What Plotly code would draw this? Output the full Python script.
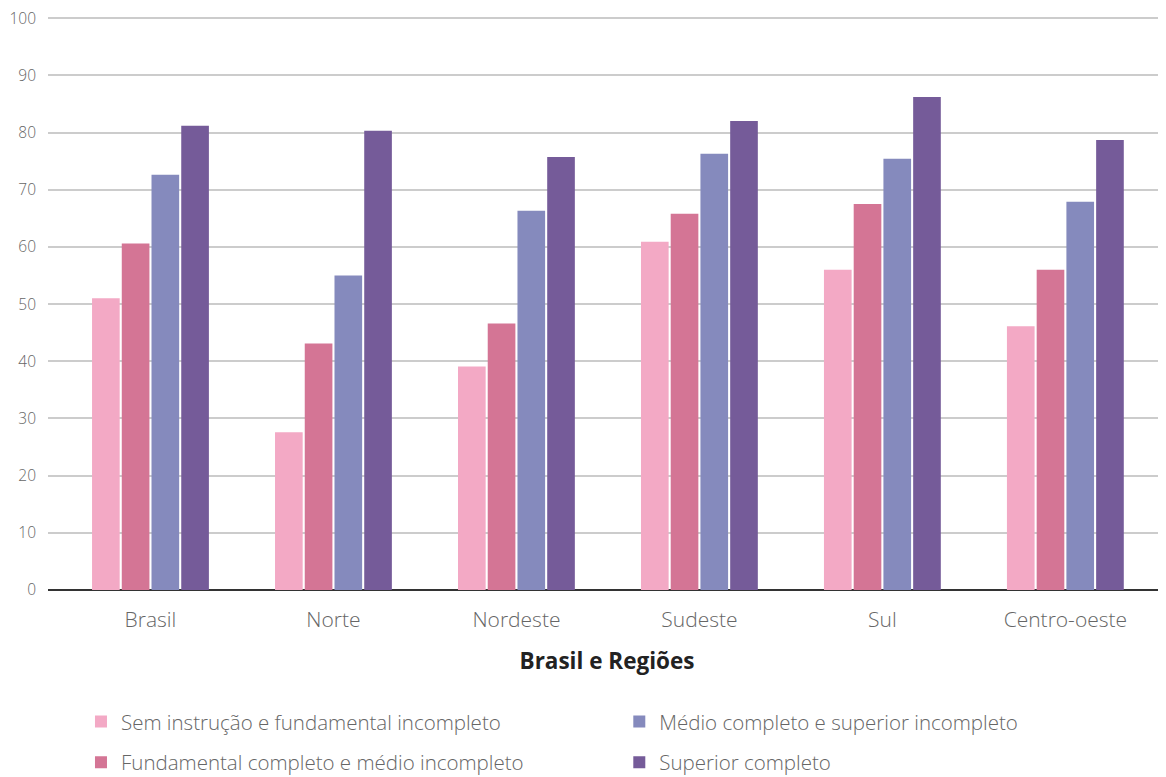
import plotly.graph_objects as go

categories = ["Brasil", "Norte", "Nordeste", "Sudeste", "Sul", "Centro-oeste"]
series_names = [
    "Sem instrução e fundamental incompleto",
    "Fundamental completo e médio incompleto",
    "Médio completo e superior incompleto",
    "Superior completo",
]
sem_instrucao = [51.0, 27.6, 39.1, 60.9, 56.0, 46.1]
fundamental = [60.6, 43.1, 46.6, 65.8, 67.5, 56.0]
medio = [72.6, 55.0, 66.3, 76.3, 75.4, 67.9]
superior = [81.2, 80.3, 75.7, 82.0, 86.2, 78.7]
y_ticks = [0, 10, 20, 30, 40, 50, 60, 70, 80, 90, 100]

colors = ["#F3A9C5", "#D47595", "#858ABD", "#755B99"]
values = [sem_instrucao, fundamental, medio, superior]
legends = ["legend", "legend", "legend2", "legend2"]

FONT = "Open Sans"
TXT = "#666666"
fig = go.Figure()
for name, vals, col, lg in zip(series_names, values, colors, legends):
    fig.add_trace(go.Bar(
        x=categories, y=vals, name=name, marker_color=col,
        marker_line_width=0, legend=lg, legendgroup=name,
    ))

legend_common = dict(
    orientation="v", xref="paper", yref="paper",
    xanchor="left", yanchor="top", y=-0.195, tracegroupgap=11,
    font=dict(family=FONT, size=20.5, color=TXT, weight=300),
    bgcolor="rgba(0,0,0,0)",
)

# page body has an 8px offset; figure sized to fill the remaining window
fig.update_layout(
    width=1158, height=769,
    margin=dict(l=40, r=0, t=9, b=187, autoexpand=False),
    plot_bgcolor="white", paper_bgcolor="white",
    barmode="group", bargap=0.35, bargroupgap=0.07,
    font=dict(family=FONT, color=TXT),
    showlegend=True,
    legend=dict(x=0.0295, **legend_common),
    legend2=dict(x=0.511, **legend_common),
    xaxis=dict(
        type="category", range=[-0.56, 5.55],
        tickfont=dict(family=FONT, size=21, color=TXT, weight=300),
        ticklabelstandoff=15, showgrid=False, tickangle=0,
        title=dict(text="<b>Brasil e Regiões</b>",
                   font=dict(family=FONT, size=22.5, color="#222222"), standoff=21),
        showline=False, zeroline=False, automargin=False,
    ),
    yaxis=dict(
        range=[0, 100.2], tickvals=y_ticks,
        tickfont=dict(family=FONT, size=15.5, color=TXT, weight=300),
        gridcolor="#CCCCCC", gridwidth=1.5,
        zeroline=True, zerolinecolor="#333333", zerolinewidth=2,
        ticklabelstandoff=11, showline=False, automargin=False,
        ticklabeloverflow="allow",
    ),
)

fig.write_html("out.html")
